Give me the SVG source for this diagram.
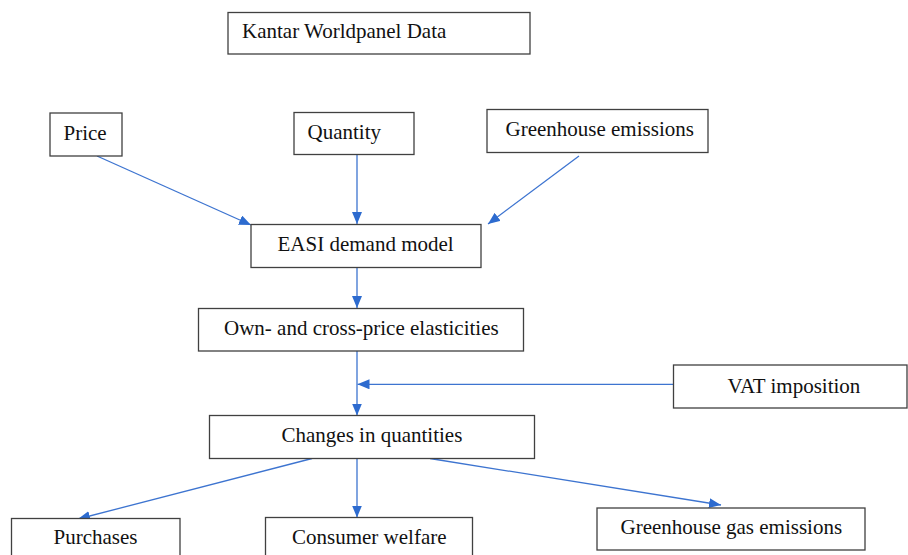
<svg xmlns="http://www.w3.org/2000/svg" width="908" height="555" viewBox="0 0 908 555">
<style>
.box{fill:#fff;stroke:#404040;stroke-width:1.3}
.t{font-family:"Liberation Serif","Times New Roman",serif;font-size:21px;fill:#111}
.c{stroke:#3D74D0;stroke-width:1.3;fill:none}
</style>
<defs>
<marker id="ah" viewBox="0 0 12 10" refX="12" refY="5" markerWidth="12" markerHeight="10" markerUnits="userSpaceOnUse" orient="auto">
<path d="M0,0 L12,5 L0,10 Z" fill="#2D6BCF"/>
</marker>
</defs>
<rect width="908" height="555" fill="#fff"/>
<g id="connectors">
<line class="c" x1="97" y1="156" x2="251" y2="225" marker-end="url(#ah)"/>
<line class="c" x1="357" y1="155" x2="357" y2="224" marker-end="url(#ah)"/>
<line class="c" x1="579" y1="156" x2="488" y2="224" marker-end="url(#ah)"/>
<line class="c" x1="357" y1="267" x2="357" y2="308" marker-end="url(#ah)"/>
<line class="c" x1="357" y1="351" x2="357" y2="415.5" marker-end="url(#ah)"/>
<line class="c" x1="673" y1="384.3" x2="357.5" y2="384.3" marker-end="url(#ah)"/>
<line class="c" x1="312" y1="458.5" x2="78" y2="519" marker-end="url(#ah)"/>
<line class="c" x1="357" y1="458.5" x2="357" y2="517.5" marker-end="url(#ah)"/>
<line class="c" x1="430" y1="458.5" x2="721" y2="505" marker-end="url(#ah)"/>
</g>
<g id="kantar"><rect class="box" x="228" y="12.5" width="302" height="41.5"/><text class="t" x="242" y="38">Kantar Worldpanel Data</text></g>
<g id="price"><rect class="box" x="50" y="113" width="72" height="43"/><text class="t" x="63.5" y="139.5">Price</text></g>
<g id="quantity"><rect class="box" x="294" y="112.5" width="120" height="42"/><text class="t" x="307.5" y="139">Quantity</text></g>
<g id="greenhouse"><rect class="box" x="487" y="109.5" width="221" height="43"/><text class="t" x="505.5" y="136">Greenhouse emissions</text></g>
<g id="easi"><rect class="box" x="251" y="224.5" width="230" height="43"/><text class="t" x="277.5" y="251">EASI demand model</text></g>
<g id="elasticities"><rect class="box" x="198.5" y="308.5" width="325" height="42.5"/><text class="t" x="224" y="334.5">Own- and cross-price elasticities</text></g>
<g id="vat"><rect class="box" x="673.5" y="365" width="233.5" height="43"/><text class="t" x="727.5" y="392.5">VAT imposition</text></g>
<g id="changes"><rect class="box" x="209.5" y="415.5" width="325" height="43"/><text class="t" x="281.5" y="442">Changes in quantities</text></g>
<g id="purchases"><rect class="box" x="11.5" y="518.5" width="168.5" height="45"/><text class="t" x="53.5" y="544">Purchases</text></g>
<g id="welfare"><rect class="box" x="265.5" y="517.5" width="207" height="45"/><text class="t" x="292" y="543.5">Consumer welfare</text></g>
<g id="ghg"><rect class="box" x="597" y="508" width="268" height="42"/><text class="t" x="620.5" y="533.5">Greenhouse gas emissions</text></g>
</svg>
